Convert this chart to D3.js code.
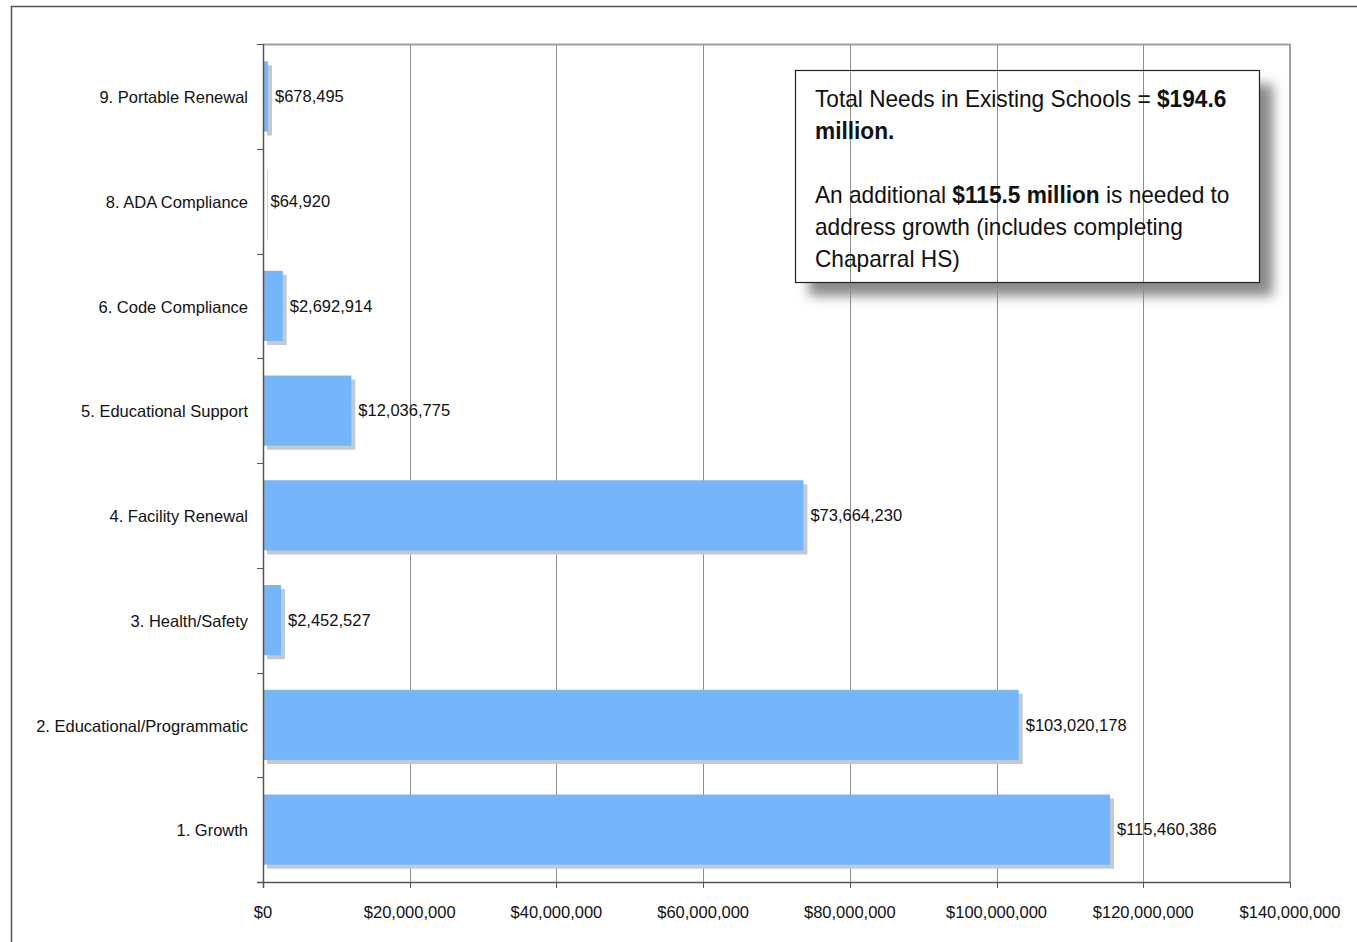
<!DOCTYPE html>
<html>
<head>
<meta charset="utf-8">
<script src="https://cdn.jsdelivr.net/npm/d3@7"></script>
<style>
  html, body { margin: 0; padding: 0; background: #fff; }
  svg { display: block; font-family: "Liberation Sans", Arial, sans-serif; }
</style>
</head>
<body>
<svg id="chart" width="1357" height="942"></svg>
<script>
// Facility needs by category (bottom to top on the chart)
const categories = [
  "1. Growth",
  "2. Educational/Programmatic",
  "3. Health/Safety",
  "4. Facility Renewal",
  "5. Educational Support",
  "6. Code Compliance",
  "8. ADA Compliance",
  "9. Portable Renewal"
];
const values = [115460386, 103020178, 2452527, 73664230, 12036775, 2692914, 64920, 678495];
const xTicks = [0, 20000000, 40000000, 60000000, 80000000, 100000000, 120000000, 140000000];

const svg = d3.select("#chart");
const W = 1357, H = 942;
const plot = { left: 263, top: 44, right: 1290, bottom: 882 };
const FS = 16.5;

const defs = svg.append("defs");
const blur = defs.append("filter").attr("id", "boxShadow")
  .attr("x", "-10%").attr("y", "-10%").attr("width", "130%").attr("height", "140%");
blur.append("feGaussianBlur").attr("stdDeviation", 6);

// outer frame
svg.append("path")
  .attr("d", `M11.5,${H} V6.5 H${W}`)
  .attr("fill", "none").attr("stroke", "#555").attr("stroke-width", 1.5);

const x = d3.scaleLinear().domain([0, 140000000]).range([plot.left, plot.right]);
const y = d3.scaleBand().domain(categories.slice().reverse())
  .range([plot.top, plot.bottom]).paddingInner(0.33).paddingOuter(0.165);
const yBands = d3.scaleBand().domain(categories.slice().reverse())
  .range([plot.top, plot.bottom]);

// vertical gridlines
svg.append("g").selectAll("line").data(xTicks.slice(1, -1)).join("line")
  .attr("x1", d => Math.round(x(d)) + 0.5).attr("x2", d => Math.round(x(d)) + 0.5)
  .attr("y1", plot.top).attr("y2", plot.bottom)
  .attr("stroke", "#8f8f8f").attr("stroke-width", 1);

// plot frame: top and right
svg.append("path")
  .attr("d", `M${plot.left},${plot.top + 0.5} H${plot.right} V${plot.bottom}`)
  .attr("fill", "none").attr("stroke", "#a0a0a0").attr("stroke-width", 2);

// bar shadows then bars
const data = categories.map((c, i) => ({ c, v: values[i] }));
svg.append("g").selectAll("rect").data(data).join("rect")
  .attr("x", x(0) + 4)
  .attr("y", d => y(d.c) + 4)
  .attr("width", d => Math.max(x(d.v) - x(0), 0.8))
  .attr("height", y.bandwidth())
  .attr("fill", "#c8c8c8");
svg.append("g").selectAll("rect").data(data).join("rect")
  .attr("x", x(0))
  .attr("y", d => y(d.c))
  .attr("width", d => x(d.v) - x(0))
  .attr("height", y.bandwidth())
  .attr("fill", "#75b6fa");

// value labels
const fmt = d3.format("$,");
svg.append("g").selectAll("text").data(data).join("text")
  .attr("x", d => x(d.v) + 7)
  .attr("y", d => y(d.c) + y.bandwidth() / 2)
  .attr("dy", "0.35em")
  .attr("font-size", FS).attr("fill", "#111")
  .text(d => fmt(d.v));

// y axis
const yAxis = svg.append("g");
yAxis.append("line")
  .attr("x1", plot.left + 0.5).attr("x2", plot.left + 0.5)
  .attr("y1", plot.top).attr("y2", plot.bottom + 6)
  .attr("stroke", "#555").attr("stroke-width", 1.5);
const bounds = categories.map(c => yBands(c)).concat([plot.bottom]);
yAxis.selectAll("line.tick").data(bounds).join("line").attr("class", "tick")
  .attr("x1", plot.left - 6).attr("x2", plot.left)
  .attr("y1", d => Math.round(d) + 0.5).attr("y2", d => Math.round(d) + 0.5)
  .attr("stroke", "#555").attr("stroke-width", 1);
yAxis.selectAll("text").data(categories).join("text")
  .attr("x", plot.left - 15)
  .attr("y", d => yBands(d) + yBands.bandwidth() / 2 + 1)
  .attr("dy", "0.35em").attr("text-anchor", "end")
  .attr("font-size", FS).attr("fill", "#111")
  .text(d => d);

// x axis
const xAxis = svg.append("g");
xAxis.append("line")
  .attr("x1", plot.left - 6).attr("x2", plot.right)
  .attr("y1", plot.bottom + 0.5).attr("y2", plot.bottom + 0.5)
  .attr("stroke", "#555").attr("stroke-width", 1.5);
xAxis.selectAll("line.tick").data(xTicks).join("line").attr("class", "tick")
  .attr("x1", d => Math.round(x(d)) + 0.5).attr("x2", d => Math.round(x(d)) + 0.5)
  .attr("y1", plot.bottom).attr("y2", plot.bottom + 6)
  .attr("stroke", "#555").attr("stroke-width", 1);
xAxis.selectAll("text").data(xTicks).join("text")
  .attr("x", d => x(d)).attr("y", plot.bottom + 36)
  .attr("text-anchor", "middle")
  .attr("font-size", FS).attr("fill", "#111")
  .text(d => fmt(d));

// annotation box
const box = { x: 795, y: 70, w: 464, h: 212 };
svg.append("rect")
  .attr("x", box.x + 14).attr("y", box.y + 14)
  .attr("width", box.w).attr("height", box.h)
  .attr("fill", "#8a8a8a").attr("filter", "url(#boxShadow)");
svg.append("rect")
  .attr("x", box.x + 0.5).attr("y", box.y + 0.5)
  .attr("width", box.w).attr("height", box.h)
  .attr("fill", "#fff").attr("stroke", "#222").attr("stroke-width", 1.2);
// gridlines pass over the box
svg.append("g").selectAll("line").data(xTicks.filter(d => x(d) > box.x && x(d) < box.x + box.w)).join("line")
  .attr("x1", d => Math.round(x(d)) + 0.5).attr("x2", d => Math.round(x(d)) + 0.5)
  .attr("y1", box.y + 1).attr("y2", box.y + box.h)
  .attr("stroke", "#8f8f8f").attr("stroke-width", 1);

const noteLines = [
  [["Total Needs in Existing Schools = ", false], ["$194.6", true]],
  [["million.", true]],
  [],
  [["An additional ", false], ["$115.5 million", true], [" is needed to", false]],
  [["address growth (includes completing", false]],
  [["Chaparral HS)", false]]
];
// slightly condensed text block
const note = svg.append("text").attr("font-size", 24).attr("fill", "#111")
  .attr("transform", `translate(${box.x + 20},${box.y}) scale(0.945,1)`);
noteLines.forEach((ln, i) => {
  if (!ln.length) return;
  ln.forEach((seg, j) => {
    const t = note.append("tspan").text(seg[0])
      .attr("font-weight", seg[1] ? "bold" : "normal");
    if (j === 0) t.attr("x", 0).attr("y", 37 + i * 32);
  });
});
</script>
</body>
</html>
